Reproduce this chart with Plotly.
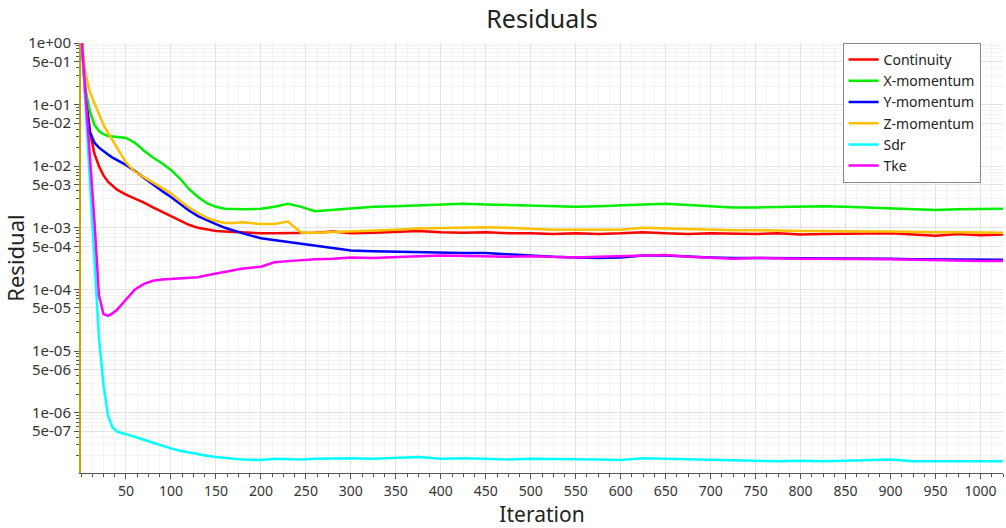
import plotly.graph_objects as go

iterations = [1, 5, 10, 15, 20, 25, 30, 35, 40, 50, 60, 70, 80, 90, 100, 110, 120, 130, 140, 150,
              160, 170, 180, 200, 215, 230, 245, 260, 280, 300, 325, 350, 375, 400, 425, 450, 475,
              500, 525, 550, 575, 600, 625, 650, 675, 700, 725, 750, 775, 800, 825, 850, 875, 900,
              925, 950, 975, 1000, 1025]

continuity = [1.0, 0.158, 0.0355, 0.0158, 0.0100, 7.08e-3, 5.62e-3, 4.79e-3, 4.17e-3, 3.47e-3,
              3.02e-3, 2.57e-3, 2.14e-3, 1.82e-3, 1.55e-3, 1.32e-3, 1.12e-3, 1.00e-3, 9.33e-4, 8.91e-4,
              8.71e-4, 8.51e-4, 8.32e-4, 8.13e-4, 8.13e-4, 8.13e-4, 8.13e-4, 8.32e-4, 8.71e-4, 8.13e-4,
              8.32e-4, 8.51e-4, 8.91e-4, 8.51e-4, 8.32e-4, 8.51e-4, 8.13e-4, 8.13e-4, 7.94e-4, 8.13e-4,
              7.94e-4, 8.13e-4, 8.51e-4, 8.13e-4, 7.94e-4, 8.13e-4, 7.94e-4, 7.94e-4, 8.13e-4, 7.76e-4,
              7.94e-4, 7.94e-4, 8.13e-4, 8.13e-4, 7.76e-4, 7.41e-4, 7.94e-4, 7.59e-4, 7.76e-4]

x_momentum = [1.0, 0.174, 0.0759, 0.0468, 0.0372, 0.0331, 0.0309, 0.0302, 0.0295, 0.0288,
              0.0240, 0.0178, 0.0138, 0.0112, 8.71e-3, 6.31e-3, 4.27e-3, 3.16e-3, 2.51e-3, 2.19e-3,
              2.04e-3, 2.00e-3, 2.00e-3, 2.04e-3, 2.19e-3, 2.45e-3, 2.19e-3, 1.86e-3, 1.95e-3, 2.04e-3,
              2.19e-3, 2.24e-3, 2.29e-3, 2.34e-3, 2.45e-3, 2.40e-3, 2.34e-3, 2.29e-3, 2.19e-3, 2.19e-3,
              2.24e-3, 2.34e-3, 2.40e-3, 2.45e-3, 2.34e-3, 2.24e-3, 2.14e-3, 2.14e-3, 2.19e-3, 2.19e-3,
              2.24e-3, 2.19e-3, 2.14e-3, 2.04e-3, 2.00e-3, 1.95e-3, 2.00e-3, 2.04e-3, 2.04e-3]

y_momentum = [1.0, 0.126, 0.0355, 0.0240, 0.0200, 0.0174, 0.0155, 0.0138, 0.0126, 0.0105,
              8.32e-3, 6.46e-3, 5.01e-3, 3.98e-3, 3.16e-3, 2.45e-3, 1.91e-3, 1.55e-3, 1.32e-3, 1.15e-3,
              1.00e-3, 8.91e-4, 8.13e-4, 6.76e-4, 6.31e-4, 5.89e-4, 5.37e-4, 5.01e-4, 4.57e-4, 4.27e-4,
              4.17e-4, 4.07e-4, 3.98e-4, 3.98e-4, 3.89e-4, 3.89e-4, 3.72e-4, 3.47e-4, 3.39e-4, 3.31e-4,
              3.24e-4, 3.31e-4, 3.55e-4, 3.55e-4, 3.39e-4, 3.31e-4, 3.24e-4, 3.24e-4, 3.24e-4, 3.24e-4,
              3.24e-4, 3.24e-4, 3.16e-4, 3.16e-4, 3.09e-4, 3.09e-4, 3.02e-4, 3.02e-4, 3.02e-4]

z_momentum = [1.0, 0.316, 0.158, 0.105, 0.0692, 0.0468, 0.0347, 0.0263, 0.0204, 0.0115,
              8.13e-3, 6.61e-3, 5.37e-3, 4.47e-3, 3.63e-3, 2.75e-3, 2.14e-3, 1.74e-3, 1.45e-3, 1.29e-3,
              1.20e-3, 1.20e-3, 1.23e-3, 1.15e-3, 1.15e-3, 1.26e-3, 8.32e-4, 8.32e-4, 8.51e-4, 8.71e-4,
              8.91e-4, 9.33e-4, 9.77e-4, 1.00e-3, 1.02e-3, 1.02e-3, 1.00e-3, 9.55e-4, 9.33e-4, 9.33e-4,
              9.33e-4, 9.33e-4, 1.00e-3, 9.77e-4, 9.33e-4, 9.12e-4, 9.12e-4, 9.12e-4, 8.91e-4, 8.91e-4,
              8.91e-4, 8.71e-4, 8.71e-4, 8.71e-4, 8.51e-4, 8.51e-4, 8.51e-4, 8.32e-4, 8.32e-4]

sdr = [1.0, 0.1, 6.31e-3, 4.47e-4, 1.62e-5, 2.82e-6, 8.91e-7, 5.75e-7, 4.90e-7, 4.47e-7,
       4.07e-7, 3.63e-7, 3.24e-7, 2.88e-7, 2.63e-7, 2.40e-7, 2.24e-7, 2.09e-7, 2.00e-7, 1.91e-7,
       1.82e-7, 1.78e-7, 1.74e-7, 1.70e-7, 1.78e-7, 1.74e-7, 1.74e-7, 1.78e-7, 1.82e-7, 1.82e-7,
       1.78e-7, 1.82e-7, 1.91e-7, 1.78e-7, 1.82e-7, 1.78e-7, 1.74e-7, 1.78e-7, 1.78e-7, 1.78e-7,
       1.74e-7, 1.70e-7, 1.82e-7, 1.78e-7, 1.74e-7, 1.70e-7, 1.70e-7, 1.62e-7, 1.62e-7, 1.66e-7,
       1.62e-7, 1.66e-7, 1.70e-7, 1.74e-7, 1.62e-7, 1.62e-7, 1.62e-7, 1.58e-7, 1.62e-7]

tke = [1.0, 0.158, 0.0158, 1.26e-3, 7.94e-5, 3.98e-5, 3.72e-5, 4.07e-5, 4.68e-5, 6.76e-5,
       1.00e-4, 1.23e-4, 1.38e-4, 1.45e-4, 1.48e-4, 1.48e-4, 1.51e-4, 1.58e-4, 1.70e-4, 1.82e-4,
       1.95e-4, 2.09e-4, 2.19e-4, 2.34e-4, 2.75e-4, 2.88e-4, 3.02e-4, 3.09e-4, 3.16e-4, 3.31e-4,
       3.24e-4, 3.39e-4, 3.47e-4, 3.55e-4, 3.47e-4, 3.39e-4, 3.39e-4, 3.47e-4, 3.39e-4, 3.31e-4,
       3.39e-4, 3.47e-4, 3.63e-4, 3.63e-4, 3.39e-4, 3.31e-4, 3.16e-4, 3.24e-4, 3.16e-4, 3.16e-4,
       3.16e-4, 3.16e-4, 3.09e-4, 3.09e-4, 3.02e-4, 2.95e-4, 2.95e-4, 2.88e-4, 2.88e-4]

series_names = ["Continuity", "X-momentum", "Y-momentum", "Z-momentum", "Sdr", "Tke"]
series_values = [continuity, x_momentum, y_momentum, z_momentum, sdr, tke]
series_colors = ["#ff0000", "#00ee00", "#0000ff", "#ffc000", "#00ffff", "#ff00ff"]

x_tick_values = list(range(50, 1001, 50))
y_tick_values = [1, 5e-1, 1e-1, 5e-2, 1e-2, 5e-3, 1e-3, 5e-4, 1e-4, 5e-5, 1e-5, 5e-6, 1e-6, 5e-7]
y_tick_labels = ["1e+00", "5e-01", "1e-01", "5e-02", "1e-02", "5e-03", "1e-03", "5e-04",
                 "1e-04", "5e-05", "1e-05", "5e-06", "1e-06", "5e-07"]
y_minor_values = [m * 10.0 ** (-k) for k in range(1, 8) for m in (2, 3, 4, 6, 7, 8, 9)]

FONT = "Noto Sans"

fig = go.Figure()
for name, vals, col in zip(series_names, series_values, series_colors):
    fig.add_trace(go.Scatter(x=iterations, y=vals, name=name, mode="lines",
                             line=dict(color=col, width=2.5)))

fig.update_layout(
    width=1006, height=528,
    margin=dict(l=81, r=3, t=43, b=52),
    paper_bgcolor="white", plot_bgcolor="white",
    font=dict(family=FONT, color="#333333"),
    title=dict(text="Residuals", x=0.5, xref="paper", xanchor="center",
               y=1 - 19 / 528, yanchor="middle",
               font=dict(family=FONT, size=25, color="#222222")),
    legend=dict(x=0.826, y=1, xanchor="left", yanchor="top",
                bgcolor="white", bordercolor="#888888", borderwidth=1,
                font=dict(family=FONT, size=14, color="#222222"),
                itemwidth=30, tracegroupgap=0),
    showlegend=True,
)

fig.update_xaxes(
    range=[0, 1025],
    tickmode="array", tickvals=x_tick_values,
    ticks="outside", ticklen=5, tickcolor="#555555",
    tickfont=dict(family=FONT, size=14, color="#333333"),
    showline=True, linecolor="#555555", linewidth=1,
    showgrid=True, gridcolor="#e3e3e3", gridwidth=1,
    zeroline=False,
    minor=dict(dtick=12.5, tick0=0, ticks="outside", ticklen=3, tickcolor="#555555",
               showgrid=True, gridcolor="#f3f3f3"),
    title=dict(text="Iteration", font=dict(family=FONT, size=21, color="#222222"), standoff=11),
)

fig.update_yaxes(
    type="log", range=[-6.98, 0],
    tickmode="array", tickvals=y_tick_values, ticktext=y_tick_labels,
    ticks="outside", ticklen=5, tickcolor="#555555",
    tickfont=dict(family=FONT, size=15, color="#333333"),
    showline=True, linecolor="#c9a000", linewidth=2,
    showgrid=True, gridcolor="#e3e3e3", gridwidth=1,
    zeroline=False,
    minor=dict(tickmode="array", tickvals=y_minor_values, ticks="outside", ticklen=3,
               tickcolor="#555555", showgrid=True, gridcolor="#f3f3f3"),
    title=dict(text="Residual", font=dict(family=FONT, size=22, color="#222222"), standoff=0),
)

fig.write_html("out.html")
